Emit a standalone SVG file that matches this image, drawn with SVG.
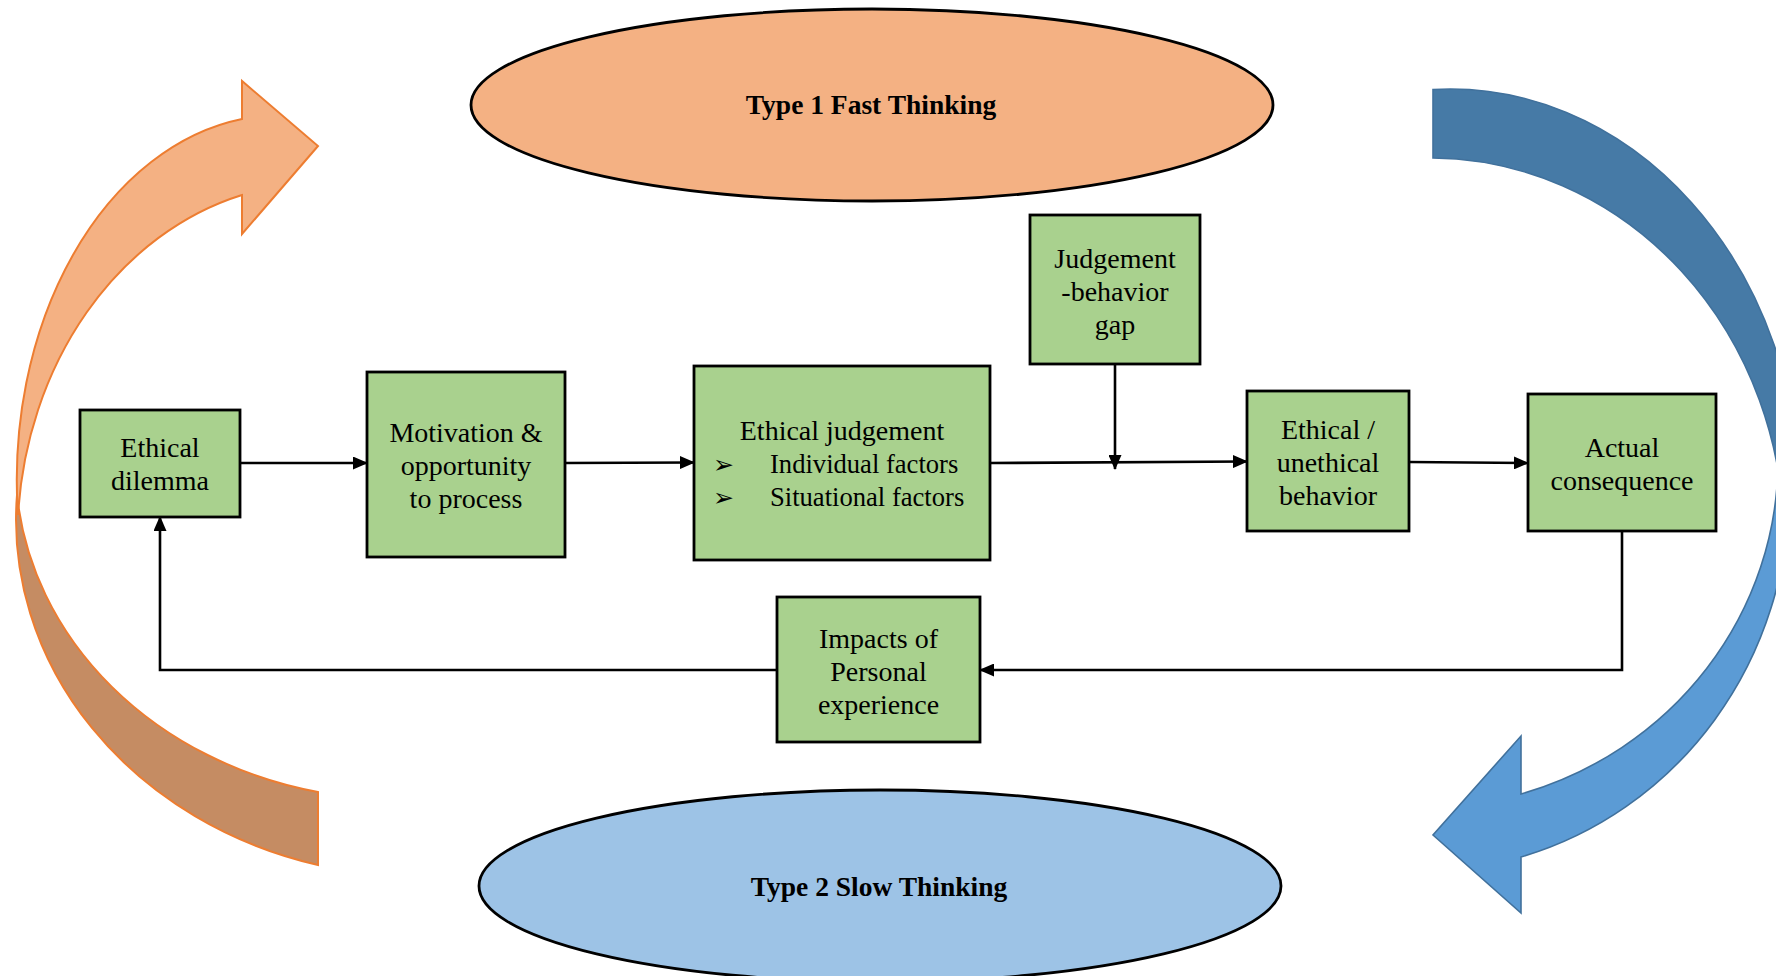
<svg xmlns="http://www.w3.org/2000/svg" width="1776" height="976" viewBox="0 0 1776 976">
  <defs>
    <style>
      .box { fill: #A9D18E; stroke: #000; stroke-width: 2.8; }
      .lbl { font-family: "Liberation Serif", "Times New Roman", serif; font-size: 28px; fill: #000; text-anchor: middle; }
      .lbl-l { font-family: "Liberation Serif", "Times New Roman", serif; font-size: 26.6px; fill: #000; text-anchor: start; }
      .bul { font-family: "DejaVu Sans", sans-serif; font-size: 25px; fill: #000; }
      .title { font-family: "Liberation Serif", "Times New Roman", serif; font-size: 27.5px; font-weight: bold; fill: #000; text-anchor: middle; }
      .conn { fill: none; stroke: #000; stroke-width: 2.6; }
      .oval { stroke: #000; stroke-width: 2.8; }
      .orange { stroke: #ED7D31; stroke-width: 2; stroke-linejoin: miter; }
      .blue { stroke: #41719C; stroke-width: 1.6; stroke-linejoin: miter; }
    </style>
    <marker id="ah" markerUnits="userSpaceOnUse" markerWidth="15" markerHeight="13" refX="14" refY="6.5" orient="auto">
      <path d="M0,0 L15,6.5 L0,13 Z" fill="#000"/>
    </marker>
  </defs>
  <rect width="1776" height="976" fill="#fff"/>

  <!-- Curved cycle arrows -->
  <g id="cycle-fast">
    <path class="orange" fill="#C58C63" d="M 318 865 A 404 357 0 0 1 17 495 A 382 335 0 0 0 318 792 Z"/>
    <path class="orange" fill="#F4B183" d="M 242 119 A 264 365 0 0 0 18 515 A 302 357 0 0 1 242 195 L 242 234 L 318 146 L 242 81 Z"/>
  </g>
  <g id="cycle-slow">
    <path class="blue" fill="#467AA6" d="M 1433 89.5 A 350 411 0 0 1 1800 500 L 1784 540 A 354 382 0 0 0 1433 158 Z"/>
    <path class="blue" fill="#5B9BD5" d="M 1521 857 A 369 381 0 0 0 1789 490 L 1778 460 A 358 348 0 0 1 1521 794 L 1521 736 L 1433 835 L 1521 913 Z"/>
  </g>

  <!-- Ellipses -->
  <g id="type1">
    <ellipse class="oval" cx="872" cy="105" rx="401" ry="96" fill="#F4B183"/>
    <text class="title" x="871" y="114">Type 1 Fast Thinking</text>
  </g>
  <g id="type2">
    <ellipse class="oval" cx="880" cy="886" rx="401" ry="96" fill="#9DC3E6"/>
    <text class="title" x="879" y="896">Type 2 Slow Thinking</text>
  </g>

  <!-- Connectors -->
  <g id="connectors">
    <path class="conn" d="M 240 463 L 367 463" marker-end="url(#ah)"/>
    <path class="conn" d="M 565 463 L 694 462.5" marker-end="url(#ah)"/>
    <path class="conn" d="M 990 463 L 1247 461.5" marker-end="url(#ah)"/>
    <path class="conn" d="M 1115 364 L 1115 469" marker-end="url(#ah)"/>
    <path class="conn" d="M 1409 462 L 1528 463" marker-end="url(#ah)"/>
    <path class="conn" d="M 1622 531 L 1622 670 L 980 670" marker-end="url(#ah)"/>
    <path class="conn" d="M 777 670 L 160 670 L 160 517" marker-end="url(#ah)"/>
  </g>

  <!-- Nodes -->
  <g id="ethical-dilemma">
    <rect class="box" x="80" y="410" width="160" height="107"/>
    <text class="lbl" x="160" y="457">Ethical</text>
    <text class="lbl" x="160" y="490">dilemma</text>
  </g>
  <g id="motivation">
    <rect class="box" x="367" y="372" width="198" height="185"/>
    <text class="lbl" x="466" y="441.5">Motivation &amp;</text>
    <text class="lbl" x="466" y="474.5">opportunity</text>
    <text class="lbl" x="466" y="507.5">to process</text>
  </g>
  <g id="ethical-judgement">
    <rect class="box" x="694" y="366" width="296" height="194"/>
    <text class="lbl" x="842" y="440">Ethical judgement</text>
    <text class="bul" x="713" y="473">➢</text>
    <text class="lbl-l" x="770" y="473">Individual factors</text>
    <text class="bul" x="713" y="506">➢</text>
    <text class="lbl-l" x="770" y="506">Situational factors</text>
  </g>
  <g id="judgement-gap">
    <rect class="box" x="1030" y="215" width="170" height="149"/>
    <text class="lbl" x="1115" y="268">Judgement</text>
    <text class="lbl" x="1115" y="301">-behavior</text>
    <text class="lbl" x="1115" y="334">gap</text>
  </g>
  <g id="behavior">
    <rect class="box" x="1247" y="391" width="162" height="140"/>
    <text class="lbl" x="1328" y="439">Ethical /</text>
    <text class="lbl" x="1328" y="472">unethical</text>
    <text class="lbl" x="1328" y="505">behavior</text>
  </g>
  <g id="actual-consequence">
    <rect class="box" x="1528" y="394" width="188" height="137"/>
    <text class="lbl" x="1622" y="457">Actual</text>
    <text class="lbl" x="1622" y="490">consequence</text>
  </g>
  <g id="personal-experience">
    <rect class="box" x="777" y="597" width="203" height="145"/>
    <text class="lbl" x="878.5" y="647.5">Impacts of</text>
    <text class="lbl" x="878.5" y="680.5">Personal</text>
    <text class="lbl" x="878.5" y="713.5">experience</text>
  </g>
</svg>
